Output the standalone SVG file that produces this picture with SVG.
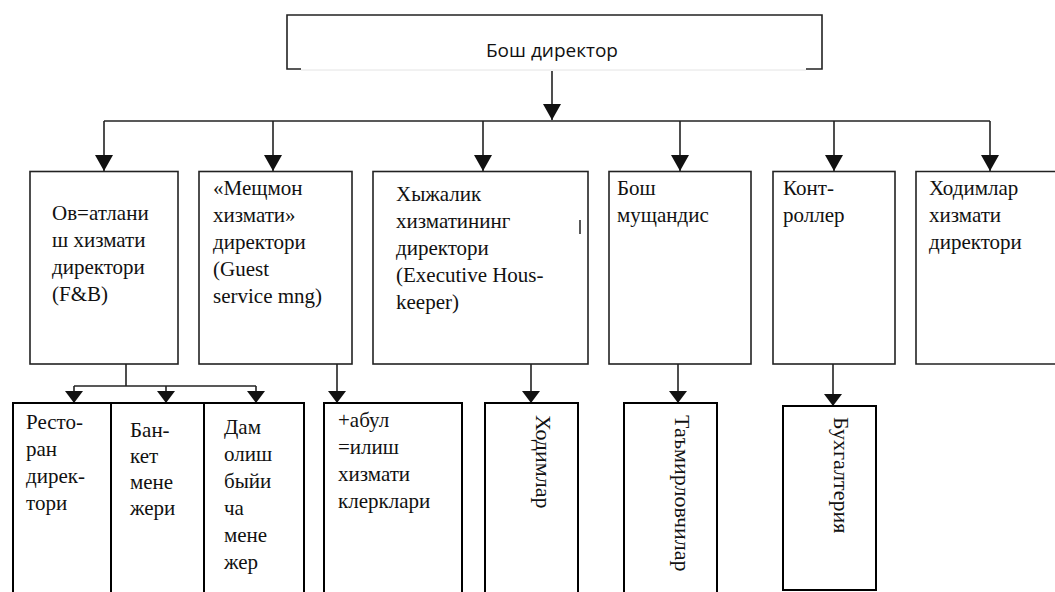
<svg xmlns="http://www.w3.org/2000/svg" width="1055" height="592" viewBox="0 0 1055 592">
<style>
.bx{fill:#fff;stroke:#222;stroke-width:1.6}
.bb{fill:#fff;stroke:#000;stroke-width:2}
.ln{fill:none;stroke:#222;stroke-width:1.6}
.t{font-family:"Liberation Serif","Times New Roman","DejaVu Serif",serif;font-size:21px;fill:#111}
.tv{font-family:"Liberation Serif","Times New Roman","DejaVu Serif",serif;font-size:22px;fill:#111}
.ts{font-family:"Open Sans","Noto Sans",sans-serif;font-size:19px;fill:#111}
</style>
<defs>
<marker id="ah" viewBox="0 0 16 18" markerWidth="16" markerHeight="18" refX="16" refY="9" orient="auto" markerUnits="userSpaceOnUse"><path d="M0,0 L16,9 L0,18 Z" fill="#111"/></marker>
<marker id="ah2" viewBox="0 0 12 18" markerWidth="12" markerHeight="18" refX="12" refY="9" orient="auto" markerUnits="userSpaceOnUse"><path d="M0,0 L12,9 L0,18 Z" fill="#111"/></marker>
</defs>
<rect width="1055" height="592" fill="#fff"/>

<g id="ceo">
<path d="M301,69 H287 V15 H822 V69 H806" class="ln"/>
<line x1="301" y1="70" x2="806" y2="70" stroke="#e4e4e4" stroke-width="1"/>
<text class="ts" x="552" y="57" text-anchor="middle">Бош директор</text>
</g>

<g id="connectors">
<line x1="552" y1="71" x2="552" y2="120" class="ln" marker-end="url(#ah)"/>
<line x1="104" y1="121" x2="990" y2="121" class="ln"/>
<line x1="104" y1="121" x2="104" y2="171" class="ln" marker-end="url(#ah)"/>
<line x1="273" y1="121" x2="273" y2="171" class="ln" marker-end="url(#ah)"/>
<line x1="483" y1="121" x2="483" y2="171" class="ln" marker-end="url(#ah)"/>
<line x1="680" y1="121" x2="680" y2="171" class="ln" marker-end="url(#ah)"/>
<line x1="834" y1="121" x2="834" y2="171" class="ln" marker-end="url(#ah)"/>
<line x1="990" y1="121" x2="990" y2="171" class="ln" marker-end="url(#ah)"/>
<line x1="126" y1="364" x2="126" y2="386" class="ln"/>
<line x1="74" y1="386" x2="256" y2="386" class="ln"/>
<line x1="74" y1="386" x2="74" y2="403" class="ln" marker-end="url(#ah2)"/>
<line x1="166" y1="386" x2="166" y2="403" class="ln" marker-end="url(#ah2)"/>
<line x1="256" y1="386" x2="256" y2="403" class="ln" marker-end="url(#ah2)"/>
<line x1="337" y1="364" x2="337" y2="403" class="ln" marker-end="url(#ah2)"/>
<line x1="531" y1="364" x2="531" y2="403" class="ln" marker-end="url(#ah2)"/>
<line x1="678" y1="364" x2="678" y2="403" class="ln" marker-end="url(#ah2)"/>
<line x1="833" y1="364" x2="833" y2="406" class="ln" marker-end="url(#ah2)"/>
</g>

<g id="fb">
<rect x="30" y="171.5" width="148" height="192.5" class="bx"/>
<text class="t"><tspan x="52" y="220">Ов=атлани</tspan><tspan x="52" y="247">ш хизмати</tspan><tspan x="52" y="274">директори</tspan><tspan x="52" y="301">(F&amp;B)</tspan></text>
</g>
<g id="guest">
<rect x="199" y="171.5" width="153" height="192.5" class="bx"/>
<text class="t"><tspan x="213" y="195">«Мещмон</tspan><tspan x="213" y="222">хизмати»</tspan><tspan x="213" y="249">директори</tspan><tspan x="213" y="276">(Guest</tspan><tspan x="213" y="303">service mng)</tspan></text>
</g>
<g id="housekeeping">
<rect x="373" y="171.5" width="215" height="192.5" class="bx"/>
<text class="t"><tspan x="396" y="201">Хыжалик</tspan><tspan x="396" y="228">хизматининг</tspan><tspan x="396" y="255">директори</tspan><tspan x="396" y="282">(Executive Hous-</tspan><tspan x="396" y="309">keeper)</tspan></text>
<line x1="580" y1="220" x2="580" y2="234" stroke="#222" stroke-width="1.5"/>
</g>
<g id="engineer">
<rect x="609" y="171.5" width="142" height="192.5" class="bx"/>
<text class="t"><tspan x="617" y="195">Бош</tspan><tspan x="617" y="222">мущандис</tspan></text>
</g>
<g id="controller">
<rect x="773" y="171.5" width="122" height="192.5" class="bx"/>
<text class="t"><tspan x="783" y="195">Конт-</tspan><tspan x="783" y="222">роллер</tspan></text>
</g>
<g id="hr">
<path d="M1060,171.5 H916 V364 H1060" class="bx"/>
<text class="t"><tspan x="929" y="195">Ходимлар</tspan><tspan x="929" y="222">хизмати</tspan><tspan x="929" y="249">директори</tspan></text>
</g>

<g id="restaurant">
<rect x="13" y="403" width="98" height="200" class="bb"/>
<text class="t"><tspan x="26" y="429">Ресто-</tspan><tspan x="26" y="456">ран</tspan><tspan x="26" y="483">дирек-</tspan><tspan x="26" y="510">тори</tspan></text>
</g>
<g id="banquet">
<rect x="111" y="403" width="93" height="200" class="bb"/>
<text class="t"><tspan x="130" y="437">Бан-</tspan><tspan x="130" y="463">кет</tspan><tspan x="130" y="489">мене</tspan><tspan x="130" y="515">жери</tspan></text>
</g>
<g id="leisure">
<rect x="204" y="403" width="100" height="200" class="bb"/>
<text class="t"><tspan x="224" y="434">Дам</tspan><tspan x="224" y="461">олиш</tspan><tspan x="224" y="488">быйи</tspan><tspan x="224" y="515">ча</tspan><tspan x="224" y="542">мене</tspan><tspan x="224" y="569">жер</tspan></text>
</g>
<g id="reception">
<rect x="324" y="403" width="138" height="200" class="bb"/>
<text class="t"><tspan x="338" y="427">+абул</tspan><tspan x="338" y="454">=илиш</tspan><tspan x="338" y="481">хизмати</tspan><tspan x="338" y="508">клерклари</tspan></text>
</g>
<g id="staff">
<rect x="485" y="403" width="93" height="200" class="bb"/>
<text class="tv" transform="translate(536,415) rotate(90)">Ходимлар</text>
</g>
<g id="repair">
<rect x="624" y="403" width="93" height="200" class="bb"/>
<text class="tv" transform="translate(675,415) rotate(90)">Таъмирловчилар</text>
</g>
<g id="accounting">
<rect x="783" y="406" width="93" height="184" class="bb"/>
<text class="tv" transform="translate(834,417) rotate(90)">Бухгалтерия</text>
</g>
</svg>
